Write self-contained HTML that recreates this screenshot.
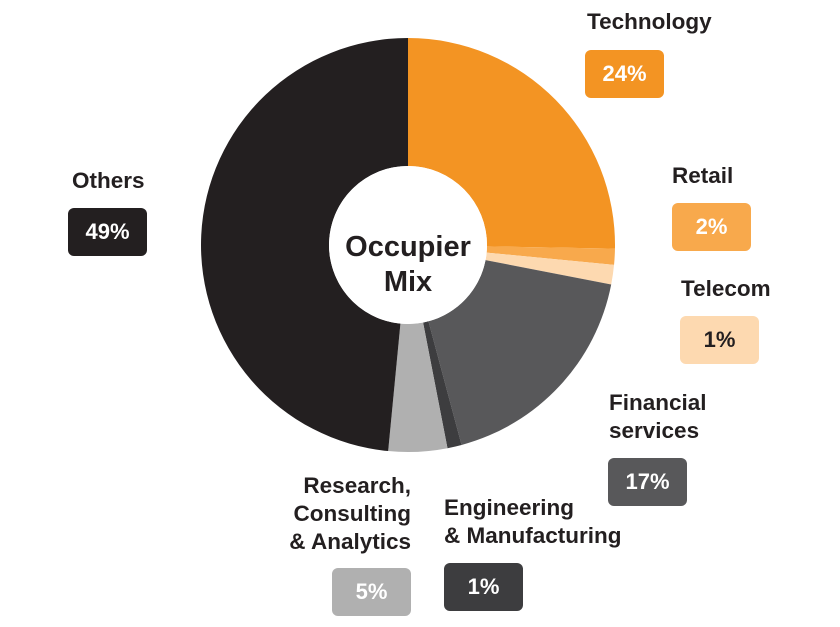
<!DOCTYPE html>
<html><head><meta charset="utf-8"><style>
body{margin:0;background:#fff;width:840px;height:627px;overflow:hidden;font-family:"Liberation Sans",sans-serif;}
.l{position:absolute;font-weight:bold;font-size:22.5px;color:#231f20;line-height:28px;white-space:nowrap;}
.b{position:absolute;width:79px;height:48px;border-radius:6px;color:#fff;font-weight:bold;font-size:22px;line-height:48px;text-align:center;}
</style></head><body>
<svg id="s" width="840" height="627" style="position:absolute;left:0;top:0"></svg>
<div class="l" style="left:587px;top:8px">Technology</div>
<div class="b" style="left:585px;top:50px;background:#f39423">24%</div>
<div class="l" style="left:672px;top:162px">Retail</div>
<div class="b" style="left:672px;top:203px;background:#f8a94c">2%</div>
<div class="l" style="left:681px;top:275px">Telecom</div>
<div class="b" style="left:680px;top:316px;background:#fdd9b0;color:#231f20">1%</div>
<div class="l" style="left:609px;top:389px">Financial<br>services</div>
<div class="b" style="left:608px;top:458px;background:#58585a">17%</div>
<div class="l" style="left:444px;top:494px">Engineering<br>&amp; Manufacturing</div>
<div class="b" style="left:444px;top:563px;background:#3d3d3f">1%</div>
<div class="l" style="left:211px;top:472px;width:200px;text-align:right">Research,<br>Consulting<br>&amp; Analytics</div>
<div class="b" style="left:332px;top:568px;background:#b0b0b0">5%</div>
<div class="l" style="left:72px;top:167px">Others</div>
<div class="b" style="left:68px;top:208px;background:#231f20">49%</div>
<div class="l" style="left:308px;top:230px;width:200px;text-align:center;font-size:29px;line-height:35px">Occupier<br>Mix</div>
<script>
var cx=408,cy=245,R=207,r=79;
var seg=[[0,91,"#f39423"],[91,95.5,"#f8a94c"],[95.5,101,"#fdd9b0"],[101,165,"#58585a"],[165,169,"#3d3d3f"],[169,185.5,"#b0b0b0"],[185.5,360,"#231f20"]];
function p(a,rad){a=a*Math.PI/180;return [cx+rad*Math.sin(a),cy-rad*Math.cos(a)];}
var h="";
seg.forEach(function(s){var a=s[0],b=s[1],L=(b-a)>180?1:0;
var p1=p(a,R),p2=p(b,R),p3=p(b,r),p4=p(a,r);
h+='<path fill="'+s[2]+'" d="M'+p1+' A'+R+','+R+' 0 '+L+' 1 '+p2+' L'+p3+' A'+r+','+r+' 0 '+L+' 0 '+p4+'Z"/>';});
h+='<circle cx="'+cx+'" cy="'+cy+'" r="'+r+'" fill="#fff"/>';
document.getElementById("s").innerHTML=h;
</script>
</body></html>
